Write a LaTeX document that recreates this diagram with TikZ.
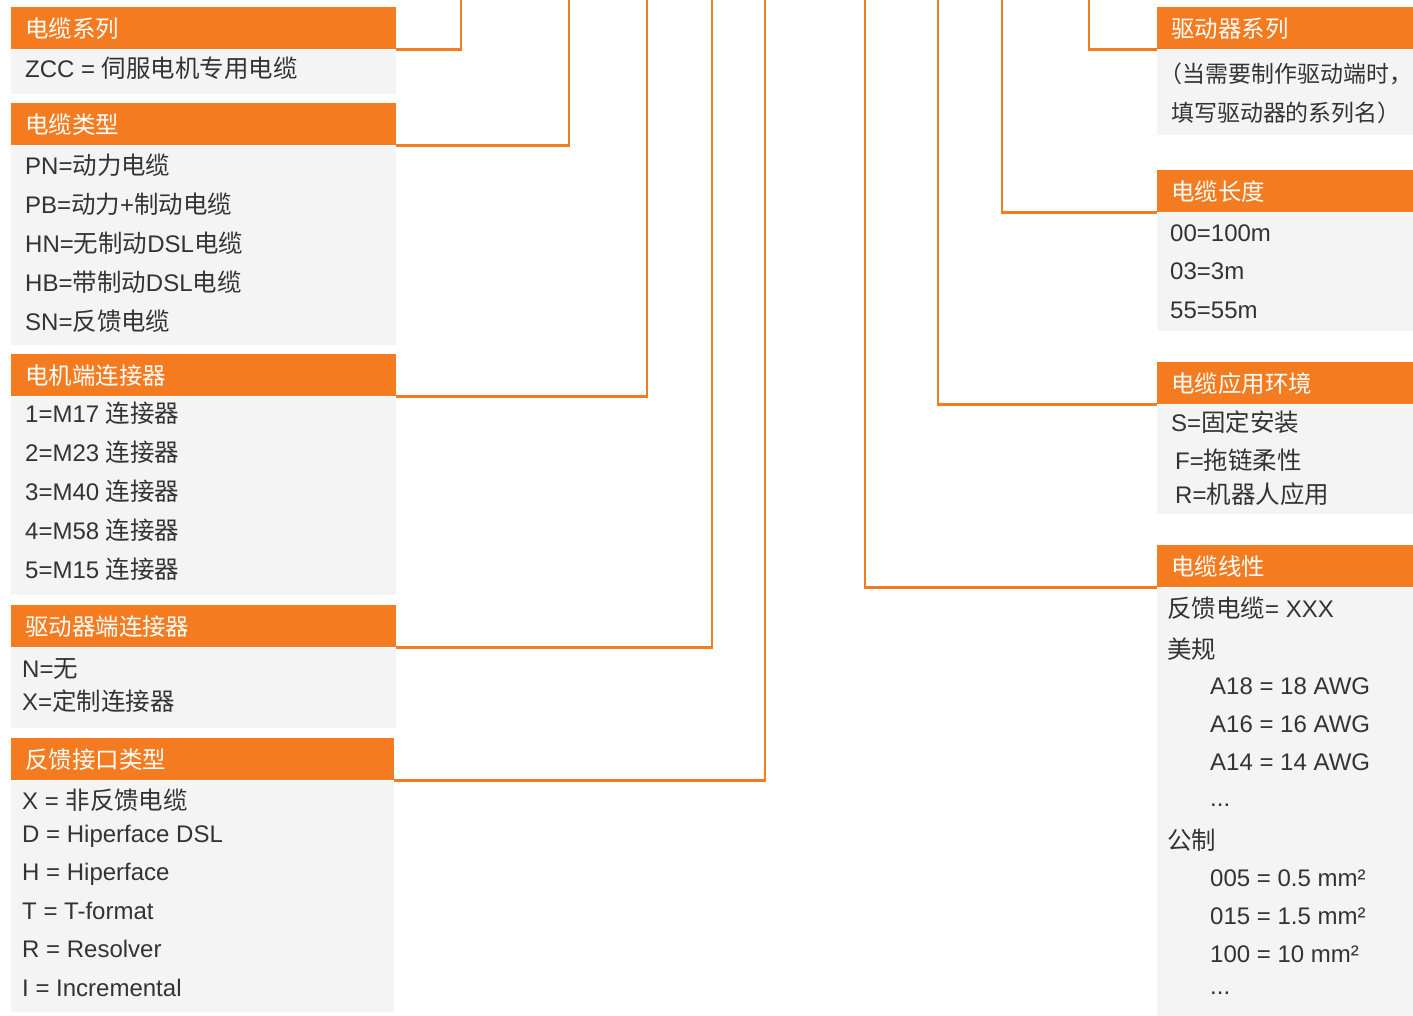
\documentclass[tikz,border=0pt]{standalone}
\usepackage{fontspec}
\setmainfont{Liberation Sans}
\newfontfamily\zhfont[Scale=1.02, RawFeature=+halt]{Noto Sans CJK SC}
\newcommand{\zh}[1]{{\zhfont #1}}
\usetikzlibrary{positioning}
\definecolor{cableorange}{RGB}{244,123,32}
\definecolor{cablegray}{RGB}{244,244,244}
\definecolor{cabletext}{RGB}{51,51,51}

\begin{document}
\begin{tikzpicture}[x=1pt, y=-1pt,
        head/.style={fill=cableorange, text=white, text width=#1,
                     inner xsep=14pt, inner ysep=0pt, minimum height=42pt,
                     anchor=north west, align=left,
                     font=\zhfont\fontsize{23}{27}\selectfont},
        panel/.style={fill=cablegray, minimum width=#1, inner sep=0pt},
        item/.style={anchor=base west, inner sep=0pt, text=cabletext,
                     font=\fontsize{24}{28}\selectfont},
        wire/.style={draw=cableorange, line width=2.5pt}]
      \useasboundingbox (0,0) rectangle (1413,1015);
      \node[head=357pt] (ser) at (11,7) {电缆系列};
      \node[panel=385pt, minimum height=44pt, below=0pt of ser] (ser-b) {};
      \node[head=357pt] (typ) at (11,103) {电缆类型};
      \node[panel=385pt, minimum height=199pt, below=0pt of typ] (typ-b) {};
      \node[head=357pt] (mot) at (11,354) {电机端连接器};
      \node[panel=385pt, minimum height=198pt, below=0pt of mot] (mot-b) {};
      \node[head=357pt] (drv) at (11,605) {驱动器端连接器};
      \node[panel=385pt, minimum height=80pt, below=0pt of drv] (drv-b) {};
      \node[head=355pt] (fb) at (11,738) {反馈接口类型};
      \node[panel=383pt, minimum height=231pt, below=0pt of fb] (fb-b) {};
      \node[head=228pt] (dser) at (1157,7) {驱动器系列};
      \node[panel=256pt, minimum height=85pt, below=0pt of dser] (dser-b) {};
      \node[head=228pt] (len) at (1157,170) {电缆长度};
      \node[panel=256pt, minimum height=118pt, below=0pt of len] (len-b) {};
      \node[head=228pt] (env) at (1157,362) {电缆应用环境};
      \node[panel=256pt, minimum height=109pt, below=0pt of env] (env-b) {};
      \node[head=228pt] (awg) at (1157,545) {电缆线性};
      \node[panel=256pt, minimum height=428pt, below=0pt of awg] (awg-b) {};
      \node[item] (ser-1) at (25,77) {ZCC = \zh{伺服电机专用电缆}};
      \node[item] (typ-1) at (25,174) {PN=\zh{动力电缆}};
      \node[item] (typ-2) at (25,213) {PB=\zh{动力}+\zh{制动电缆}};
      \node[item] (typ-3) at (25,252) {HN=\zh{无制动}DSL\zh{电缆}};
      \node[item] (typ-4) at (25,291) {HB=\zh{带制动}DSL\zh{电缆}};
      \node[item] (typ-5) at (25,330) {SN=\zh{反馈电缆}};
      \node[item] (mot-1) at (25,422) {1=M17 \zh{连接器}};
      \node[item] (mot-2) at (25,461) {2=M23 \zh{连接器}};
      \node[item] (mot-3) at (25,500) {3=M40 \zh{连接器}};
      \node[item] (mot-4) at (25,539) {4=M58 \zh{连接器}};
      \node[item] (mot-5) at (25,578) {5=M15 \zh{连接器}};
      \node[item] (drv-1) at (22,677) {N=\zh{无}};
      \node[item] (drv-2) at (22,710) {X=\zh{定制连接器}};
      \node[item] (fb-1) at (22,809) {X = \zh{非反馈电缆}};
      \node[item] (fb-2) at (22,842) {D = Hiperface DSL};
      \node[item] (fb-3) at (22,880) {H = Hiperface};
      \node[item] (fb-4) at (22,919) {T = T-format};
      \node[item] (fb-5) at (22,957) {R = Resolver};
      \node[item] (fb-6) at (22,996) {I = Incremental};
      \node[item, font=\fontsize{22.5}{27}\selectfont] (dser-1) at (1171,82) {\zh{（当需要制作驱动端时，}};
      \node[item, font=\fontsize{22.5}{27}\selectfont] (dser-2) at (1171,121) {\zh{填写驱动器的系列名）}};
      \node[item] (len-1) at (1170,241) {00=100m};
      \node[item] (len-2) at (1170,279) {03=3m};
      \node[item] (len-3) at (1170,318) {55=55m};
      \node[item] (env-1) at (1171,431) {S=\zh{固定安装}};
      \node[item] (env-2) at (1175,469) {F=\zh{拖链柔性}};
      \node[item] (env-3) at (1175,503) {R=\zh{机器人应用}};
      \node[item] (awg-1) at (1167,617) {\zh{反馈电缆}= XXX};
      \node[item] (awg-2) at (1167,658) {\zh{美规}};
      \node[item] (awg-3) at (1210,694) {A18 = 18 AWG};
      \node[item] (awg-4) at (1210,732) {A16 = 16 AWG};
      \node[item] (awg-5) at (1210,770) {A14 = 14 AWG};
      \node[item] (awg-6) at (1210,806) {...};
      \node[item] (awg-7) at (1167,849) {\zh{公制}};
      \node[item] (awg-8) at (1210,886) {005 = 0.5 mm²};
      \node[item] (awg-9) at (1210,924) {015 = 1.5 mm²};
      \node[item] (awg-10) at (1210,962) {100 = 10 mm²};
      \node[item] (awg-11) at (1210,994) {...};
      \coordinate (ser-top) at (461,0);
      \coordinate (typ-top) at (569,0);
      \coordinate (mot-top) at (647,0);
      \coordinate (drv-top) at (712,0);
      \coordinate (fb-top) at (765,0);
      \coordinate (dser-top) at (1089,0);
      \coordinate (len-top) at (1002,0);
      \coordinate (env-top) at (938,0);
      \coordinate (awg-top) at (865,0);
      \draw[wire] (ser.south east) -| (ser-top);
      \draw[wire] (typ.south east) -| (typ-top);
      \draw[wire] (mot.south east) -| (mot-top);
      \draw[wire] (drv.south east) -| (drv-top);
      \draw[wire] (fb.south east) -| (fb-top);
      \draw[wire] (dser.south west) -| (dser-top);
      \draw[wire] (len.south west) -| (len-top);
      \draw[wire] (env.south west) -| (env-top);
      \draw[wire] (awg.south west) -| (awg-top);
    \end{tikzpicture}
\end{document}
